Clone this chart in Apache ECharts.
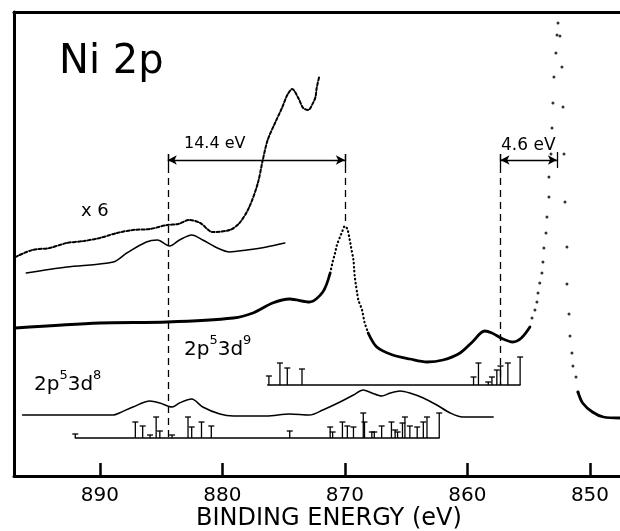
<!DOCTYPE html>
<html>
<head>
<meta charset="utf-8">
<script src="https://cdn.jsdelivr.net/npm/echarts@6/dist/echarts.min.js"></script>
<style>
  html, body { margin: 0; padding: 0; background: #fff; }
  #chart { width: 620px; height: 531px; }
</style>
</head>
<body>
<div id="chart"></div>
<script>
// binding energy (eV) vs intensity (arb. units)
var tickValues = [850, 860, 870, 880, 890]

// measured spectrum, thick solid part up to the 2p1/2 peak
var mainSolidA = [[896.9, 148], [890, 153], [884.5, 154], [879.1, 158], [877.5, 163], [875.9, 173],
  [874.5, 177], [872.9, 174], [871.8, 184], [871.2, 203]]
// dotted 2p1/2 peak
var mainDotsA = [[871.2, 203], [871.0, 214], [870.8, 223], [870.65, 231], [870.4, 239], [870.2, 245],
  [870.0, 250], [869.8, 247], [869.6, 236], [869.5, 229], [869.3, 216], [869.25, 208], [869.2, 200],
  [869.1, 191], [869.0, 183], [868.9, 176], [868.6, 166], [868.4, 154], [868.1, 143]]
// solid part between the peaks
var mainSolidB = [[868.1, 143], [867.4, 129], [866.1, 121], [864.7, 117], [863.3, 114], [862.0, 116],
  [860.6, 123], [859.6, 134], [858.6, 145], [858.0, 143], [857.1, 137], [856.3, 134], [855.6, 138],
  [854.9, 149]]
// 2p3/2 main line, single points
var mainDotsB = [[854.73, 158], [854.49, 166], [854.33, 174], [854.24, 183], [854.1, 193], [853.92, 203],
  [853.84, 214], [853.76, 228], [853.59, 243], [853.51, 259], [853.35, 279], [853.35, 299], [853.18, 322],
  [853.1, 348], [853.02, 373], [852.94, 399], [852.78, 423], [852.69, 441], [852.61, 453], [852.45, 440],
  [852.29, 409], [852.2, 369], [852.12, 322], [852.04, 274], [851.88, 229], [851.88, 192], [851.71, 162],
  [851.63, 140], [851.47, 123], [851.39, 110], [851.14, 99], [850.98, 84]]
var mainSolidC = [[850.98, 84], [850.6, 73], [849.8, 64], [848.9, 59], [847.55, 58]]

// x 6 trace
var x6Trace = [[896.9, 219], [895.5, 226], [894.1, 228], [892.7, 233], [891.3, 235], [890, 238], [888.6, 243],
  [887.3, 246], [885.9, 247], [884.5, 251], [883.6, 252], [882.7, 256], [881.8, 253], [880.8, 244],
  [879.4, 246], [878.6, 253], [877.8, 269], [877.1, 293], [876.7, 316], [876.3, 336], [875.7, 353],
  [875.1, 369], [874.7, 381], [874.3, 387], [873.8, 378], [873.4, 368], [873.0, 366], [872.6, 373],
  [872.4, 379], [872.3, 388], [872.1, 399]]

// calculated curves
var calcUpper = [[896.0, 203], [892.7, 209], [888.9, 214], [887.8, 223], [886.2, 234], [885.3, 236],
  [884.3, 230], [883.5, 236], [882.5, 241], [881.6, 236], [880.4, 228], [879.4, 224], [878.0, 226],
  [876.4, 229], [874.9, 233]]
var calcLower = [[896.3, 61], [892.7, 61], [888.9, 61], [888.4, 63], [887.3, 69], [885.9, 75], [885.1, 73],
  [884.1, 69], [883.5, 73], [882.5, 77], [881.6, 69], [880.2, 62], [879.1, 60], [876.4, 60], [874.5, 62],
  [872.9, 61], [871.8, 66], [870.4, 74], [869.3, 81], [868.5, 86], [867.8, 83], [867.0, 80], [866.3, 83],
  [865.5, 85], [864.7, 83], [863.6, 78], [862.5, 71], [861.4, 63], [860.4, 59], [857.9, 59]]

// stick spectra: [energy, top]
var d8Base = 38
var d8Range = [892.0, 862.3]
var d8Sticks = [[892.0, 42], [887.1, 54], [886.5, 50], [885.9, 41], [885.4, 59], [885.1, 45], [884.1, 41],
  [882.8, 59], [882.5, 49], [881.7, 54], [880.9, 50], [874.5, 45], [871.2, 49], [871.0, 44], [870.2, 54],
  [869.8, 50], [869.3, 49], [868.5, 63], [868.4, 54], [867.8, 44], [867.6, 44], [867.0, 50], [866.2, 54],
  [865.9, 46], [865.7, 44], [865.3, 53], [865.1, 59], [864.7, 50], [864.1, 49], [863.6, 54], [863.3, 59],
  [862.3, 63]]
var d9Base = 91
var d9Range = [876.3, 855.7]
var d9Sticks = [[876.2, 100], [875.3, 113], [874.7, 108], [873.5, 107], [859.5, 99], [859.1, 113],
  [858.3, 94], [858.0, 99], [857.6, 106], [857.3, 110], [856.7, 113], [855.7, 119]]

// splittings
var arrowY = 316
var split1 = [884.45, 870.0]
var split2 = [857.3, 852.7]

var chart = echarts.init(document.getElementById('chart'))

function stickItem (base) {
  return function (params, api) {
    var p1 = api.coord([api.value(0), base])
    var p2 = api.coord([api.value(0), api.value(1)])
    var st = { stroke: '#000', lineWidth: 1.3 }
    return {
      type: 'group',
      children: [
        { type: 'line', shape: { x1: p1[0], y1: p1[1], x2: p2[0], y2: p2[1] }, style: st },
        { type: 'line', shape: { x1: p2[0] - 3, y1: p2[1], x2: p2[0] + 3, y2: p2[1] }, style: st }
      ]
    }
  }
}

function lineSeries (data, width, type) {
  return {
    type: 'line',
    data: data,
    showSymbol: false,
    smooth: 0.3,
    silent: true,
    lineStyle: { color: '#000', width: width, type: type || 'solid', cap: 'round' }
  }
}

var dashed = { color: '#000', width: 1.3, type: [7, 5] }
var solidThin = { color: '#000', width: 1.3, type: 'solid' }
var supRich = {
  b: { fontSize: 20, fontFamily: 'DejaVu Sans', lineHeight: 26, verticalAlign: 'bottom' },
  s: { fontSize: 13, fontFamily: 'DejaVu Sans', lineHeight: 26, verticalAlign: 'top' }
}

var option = {
  animation: false,
  backgroundColor: '#fff',
  grid: { left: 14, right: 0, top: 12, bottom: 55 },
  xAxis: [{
    type: 'value',
    inverse: true,
    min: 847.55,
    max: 897,
    axisLine: { lineStyle: { color: '#000', width: 3 } },
    axisTick: { inside: true, length: 13, lineStyle: { color: '#000', width: 2.5 }, customValues: tickValues },
    axisLabel: { color: '#000', fontSize: 20, margin: 10, fontFamily: 'DejaVu Sans', customValues: tickValues },
    splitLine: { show: false }
  }, {
    type: 'value',
    inverse: true,
    position: 'top',
    min: 847.55,
    max: 897,
    axisLine: { lineStyle: { color: '#000', width: 3 } },
    axisTick: { show: false },
    axisLabel: { show: false },
    splitLine: { show: false }
  }],
  yAxis: {
    type: 'value',
    min: 0,
    max: 464,
    axisLine: { show: true, lineStyle: { color: '#000', width: 3 } },
    axisTick: { show: false },
    axisLabel: { show: false },
    splitLine: { show: false }
  },
  series: [
    lineSeries(mainSolidA, 2.8),
    lineSeries(mainDotsA, 2.2, [0.5, 3.5]),
    lineSeries(mainSolidB, 2.8),
    {
      type: 'scatter',
      data: mainDotsB,
      symbolSize: 3,
      itemStyle: { color: '#000' },
      silent: true
    },
    lineSeries(mainSolidC, 2.8),
    lineSeries(x6Trace, 2, [3, 2]),
    lineSeries(calcUpper, 1.5),
    lineSeries(calcLower, 1.5),
    lineSeries([[d8Range[0], d8Base], [d8Range[1], d8Base]], 1.3),
    lineSeries([[d9Range[0], d9Base], [d9Range[1], d9Base]], 1.3),
    { type: 'custom', data: d8Sticks, renderItem: stickItem(d8Base), silent: true },
    { type: 'custom', data: d9Sticks, renderItem: stickItem(d9Base), silent: true },
    {
      type: 'line',
      data: [],
      markLine: {
        silent: true,
        symbol: ['none', 'none'],
        label: { show: false },
        lineStyle: dashed,
        data: [
          [{ coord: [split1[0], arrowY + 6] }, { coord: [split1[0], 39] }],
          [{ coord: [split1[1], arrowY + 6] }, { coord: [split1[1], 252] }],
          [{ coord: [split2[0], arrowY + 6] }, { coord: [split2[0], 91] }],
          [{ coord: [split2[1], arrowY + 8], lineStyle: solidThin }, { coord: [split2[1], arrowY - 8] }],
          [{ coord: [split1[0], arrowY + 6], lineStyle: solidThin }, { coord: [split1[0], arrowY - 6] }],
          [{ coord: [split1[1], arrowY + 6], lineStyle: solidThin }, { coord: [split1[1], arrowY - 6] }],
          [{ coord: [split2[0], arrowY + 6], lineStyle: solidThin }, { coord: [split2[0], arrowY - 6] }],
          [
            { coord: [split1[0], arrowY], symbol: 'arrow', lineStyle: solidThin },
            { coord: [split1[1], arrowY], symbol: 'arrow' }
          ],
          [
            { coord: [split2[0], arrowY], symbol: 'arrow', lineStyle: solidThin },
            { coord: [split2[1], arrowY], symbol: 'arrow' }
          ]
        ],
        symbolSize: [7, 9],
        itemStyle: { color: '#000' }
      }
    }
  ],
  graphic: [
    { type: 'text', left: 59, top: 43, style: { text: 'Ni 2p', fontSize: 40, fontFamily: 'DejaVu Sans', fill: '#000' } },
    { type: 'text', left: 81, top: 202, style: { text: 'x 6', fontSize: 18, fontFamily: 'DejaVu Sans', fill: '#000' } },
    { type: 'text', left: 184, top: 136, style: { text: '14.4 eV', fontSize: 16, fontFamily: 'DejaVu Sans', fill: '#000' } },
    { type: 'text', left: 501, top: 137, style: { text: '4.6 eV', fontSize: 17, fontFamily: 'DejaVu Sans', fill: '#000' } },
    { type: 'text', left: 184, top: 334, style: { text: '{b|2p}{s|5}{b|3d}{s|9}', fill: '#000', rich: supRich } },
    { type: 'text', left: 34, top: 369, style: { text: '{b|2p}{s|5}{b|3d}{s|8}', fill: '#000', rich: supRich } },
    { type: 'text', left: 196, top: 507, style: { text: 'BINDING ENERGY (eV)', fontSize: 24, fontFamily: 'DejaVu Sans', fill: '#000' } }
  ]
}

chart.setOption(option)
</script>
</body>
</html>
